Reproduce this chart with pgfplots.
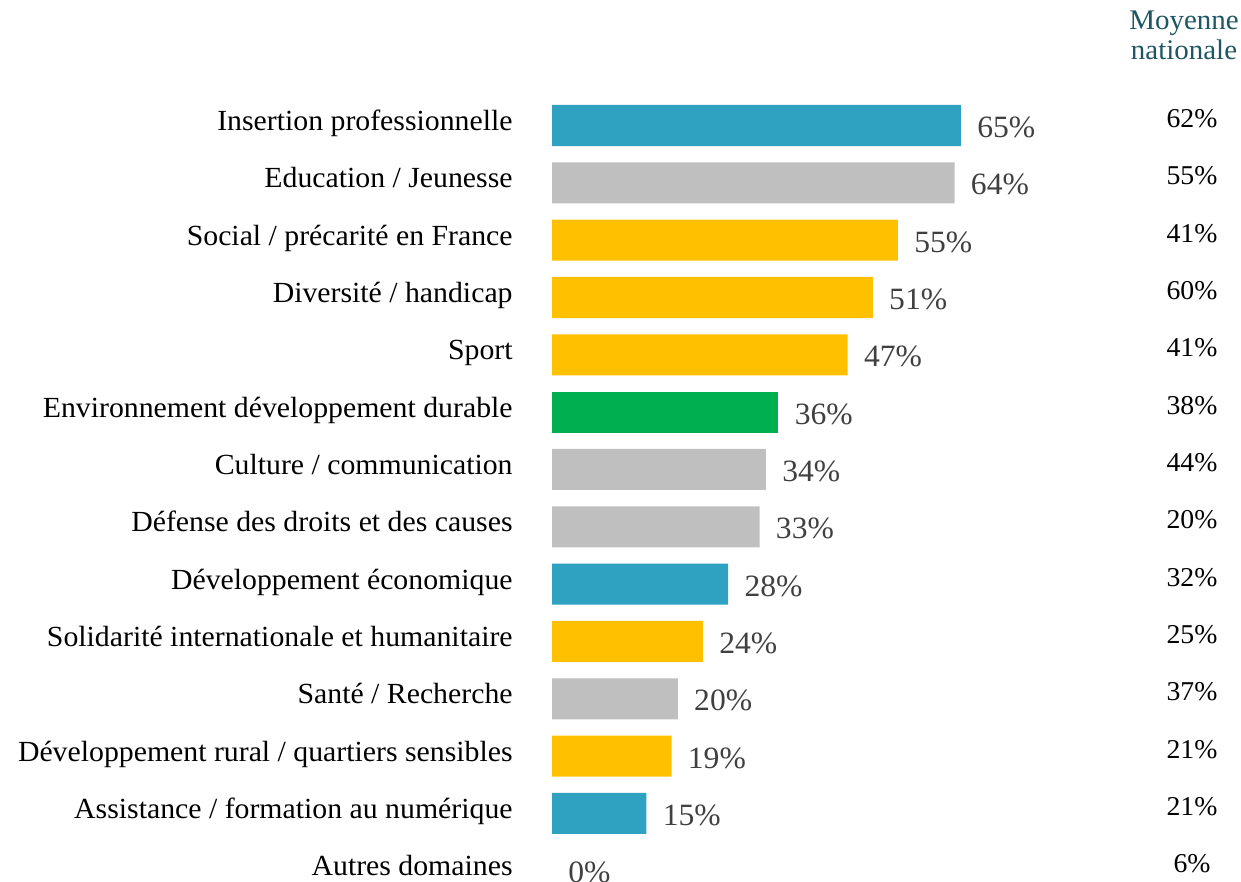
\documentclass[border=0pt]{standalone}
\usepackage{fontspec}
\setmainfont{Liberation Serif}[FakeStretch=1.02]
\usepackage{pgfplots}
\pgfplotsset{compat=1.18}
\definecolor{cblue}{RGB}{46,162,192}
\definecolor{cgray}{RGB}{191,191,191}
\definecolor{cyel}{RGB}{255,192,0}
\definecolor{cgreen}{RGB}{0,176,80}
\definecolor{cval}{RGB}{64,64,64}
\definecolor{cteal}{RGB}{31,86,102}
\begin{document}
\begin{tikzpicture}
\begin{axis}[
  width=620.5pt, height=441pt, scale only axis,
  xmin=-87.76, xmax=109.54, ymin=-2.189, ymax=13.196,
  y dir=reverse, axis lines=none, clip=false,
  xbar, bar shift=0pt, bar width=0.716,
  point meta=explicit symbolic,
  nodes near coords={\pgfplotspointmeta},
  every node near coord/.append style={anchor=base west, xshift=8pt, yshift=-6pt,
     font=\fontsize{15.5}{18}\selectfont, text=cval, inner sep=0pt},
]
\addplot[fill=cblue, draw=none] coordinates {(65,0)[65\%] (28,8)[28\%] (15,12)[15\%]};
\addplot[fill=cgray, draw=none] coordinates {(64,1)[64\%] (34,6)[34\%] (33,7)[33\%] (20,10)[20\%]};
\addplot[fill=cyel, draw=none] coordinates {(55,2)[55\%] (51,3)[51\%] (47,4)[47\%] (24,9)[24\%] (19,11)[19\%]};
\addplot[fill=cgreen, draw=none] coordinates {(36,5)[36\%]};
\addplot[fill=none, draw=none] coordinates {(0,13)[0\%]};
% category labels
\foreach \lab [count=\i from 0] in {Insertion professionnelle, Education / Jeunesse, Social / précarité en France, Diversité / handicap, Sport, Environnement développement durable, Culture / communication, Défense des droits et des causes, Développement économique, Solidarité internationale et humanitaire, Santé / Recherche, Développement rural / quartiers sensibles, Assistance / formation au numérique, Autres domaines}{
  \edef\tmp{\noexpand\node[anchor=base east, inner sep=0pt, font=\noexpand\fontsize{14.6}{17}\noexpand\selectfont] at (axis cs:-6.2,\i+0.09) {\lab};}\tmp
}
\foreach \v [count=\i from 0] in {62,55,41,60,41,38,44,20,32,25,37,21,21,6}{
  \edef\tmp{\noexpand\node[anchor=base, inner sep=0pt, font=\noexpand\fontsize{13.6}{16}\noexpand\selectfont] at (axis cs:101.75,\i+0.035) {\v\noexpand\%};}\tmp
}
\node[anchor=base, inner sep=0pt, text=cteal, font=\fontsize{14.2}{16}\selectfont] at (axis cs:100.48,-1.678) {Moyenne};
\node[anchor=base, inner sep=0pt, text=cteal, font=\fontsize{14.2}{16}\selectfont] at (axis cs:100.48,-1.143) {nationale};
\end{axis}
\pgfresetboundingbox
\path[use as bounding box] (current axis.south west) rectangle (current axis.north east);
\end{tikzpicture}
\end{document}
